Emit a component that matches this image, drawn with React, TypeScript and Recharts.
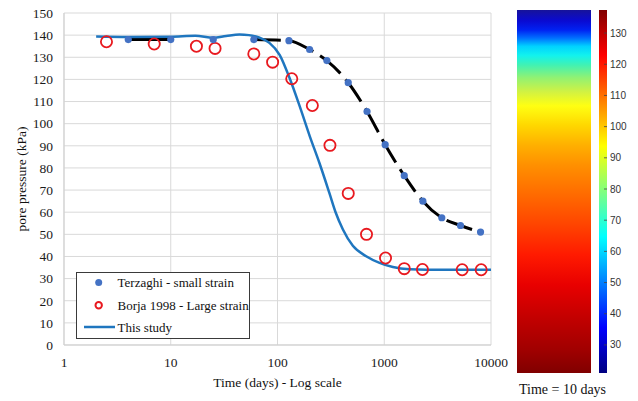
import React from 'react';
import {
  ComposedChart,
  Line,
  Scatter,
  XAxis,
  YAxis,
  CartesianGrid,
  Legend,
  BarChart,
  Bar,
  Label,
} from 'recharts';

// ---------- data ----------
const xTicks = [1, 10, 100, 1000, 10000];
const yTicks = [0, 10, 20, 30, 40, 50, 60, 70, 80, 90, 100, 110, 120, 130, 140, 150];

const terzaghiTime = [4, 10, 25, 60, 128, 200, 290, 460, 690, 1020, 1540, 2300, 3460, 5180, 7980];
const terzaghiPressure = [138, 138, 138, 138, 137.5, 133.5, 128.5, 118.5, 105.5, 90.5, 76.5, 65, 57.5, 54, 51];

const borjaTime = [2.5, 7, 17.4, 26, 60, 90, 136, 212, 310, 460, 682, 1028, 1540, 2280, 5370, 8090];
const borjaPressure = [137, 136, 135, 134, 131.5, 127.8, 120.3, 108.2, 90.2, 68.5, 50, 39.3, 34.5, 34.1, 34, 34];

const studyTime = [2, 4, 10, 17, 25, 33, 44, 54, 68, 84, 105, 130, 161, 200, 248, 307, 350, 410, 508, 677, 904, 1205, 1740, 2500, 5000, 10000];
const studyPressure = [139.4, 139.2, 139.3, 139.7, 138.8, 139.6, 140.3, 140, 138.8, 136.5, 131, 120.5, 108, 94.5, 82, 68.5, 60, 52.2, 44.8, 40.1, 37.1, 35.2, 34.2, 34, 34, 34];

const legendLabels = ['Terzaghi - small strain', 'Borja 1998 - Large strain', 'This study'];

const colorbarTicks = [30, 40, 50, 60, 70, 80, 90, 100, 110, 120, 130];
const colorbarRange: [number, number] = [21, 137.4];
const fieldTitle = 'Time = 10 days';

const terzaghiData = terzaghiTime.map((t, i) => ({ t, p: terzaghiPressure[i] }));
const terzaghiFirst = terzaghiData.slice(0, 2);
const terzaghiRest = terzaghiData.slice(3);
const borjaData = borjaTime.map((t, i) => ({ t, p: borjaPressure[i] }));
const studyData = studyTime.map((t, i) => ({ t, p: studyPressure[i] }));
const colorbarData = [{ name: fieldTitle, range: colorbarRange }];

// ---------- styles ----------
const SERIF = '"Liberation Serif", "Times New Roman", serif';
const SANS = '"Liberation Sans", Arial, sans-serif';
const BLUE_DOT = '#4472c4';
const RED = '#e8191f';
const BLUE_LINE = '#1f76bf';

const BlueDot = (props: any) => <circle cx={props.cx} cy={props.cy} r={3.6} fill={BLUE_DOT} />;
const RedCircle = (props: any) => (
  <circle cx={props.cx} cy={props.cy} r={5.6} fill="none" stroke={RED} strokeWidth={1.8} />
);

const XTitle = (props: any) => {
  const vb = props.viewBox;
  return (
    <text x={vb.x + vb.width / 2} y={vb.y + 41.5} textAnchor="middle" fontFamily={SERIF} fontSize={13.5} fill="#111">
      Time (days) - Log scale
    </text>
  );
};

const YTitle = (props: any) => {
  const vb = props.viewBox;
  const cx = 26;
  const cy = vb.y + vb.height / 2;
  return (
    <text x={cx} y={cy} transform={`rotate(-90, ${cx}, ${cy})`} textAnchor="middle" fontFamily={SERIF} fontSize={13.5} fill="#111">
      pore pressure (kPa)
    </text>
  );
};

const LegendBox = () => (
  <svg width={174} height={67} style={{ display: 'block' }}>
    <rect x={0.5} y={0.5} width={173} height={66} fill="#fff" stroke="#3a3a3a" strokeWidth={1} />
    <circle cx={22.7} cy={10.5} r={3.5} fill={BLUE_DOT} />
    <circle cx={22.7} cy={33.3} r={3.2} fill="none" stroke={RED} strokeWidth={2} />
    <line x1={8} x2={39} y1={55} y2={55} stroke={BLUE_LINE} strokeWidth={2.5} />
    {legendLabels.map((l, i) => (
      <text key={l} x={41.5} y={15 + i * 22.5} fontFamily={SERIF} fontSize={13} fill="#111">
        {l}
      </text>
    ))}
  </svg>
);

const FieldTitle = (props: any) => {
  const vb = props.viewBox;
  return (
    <text x={vb.x + vb.width / 2 + 8.5} y={vb.y + 21} textAnchor="middle" fontFamily={SERIF} fontSize={14} fill="#111">
      {fieldTitle}
    </text>
  );
};

export default function App() {
  return (
    <div style={{ position: 'absolute', left: 0, top: 0, width: 638, height: 401, background: '#fff', overflow: 'hidden' }}>
      <div style={{ position: 'absolute', left: 0, top: 0 }}>
        <ComposedChart width={510} height={401} margin={{ top: 13, right: 19, bottom: 0, left: 0 }}>
          <CartesianGrid stroke="#d9d9d9" strokeWidth={1} />
          <XAxis
            dataKey="t"
            type="number"
            scale="log"
            domain={[1, 10000]}
            ticks={xTicks}
            interval={0}
            allowDataOverflow
            height={56}
            tickLine={false}
            tickSize={0}
            tickMargin={12}
            axisLine={{ stroke: '#cfcfcf' }}
            tick={{ fontFamily: SERIF, fontSize: 13.5, fill: '#1a1a1a' }}
          >
            <Label content={XTitle} />
          </XAxis>
          <YAxis
            type="number"
            domain={[0, 150]}
            ticks={yTicks}
            interval={0}
            width={64}
            tickLine={false}
            tickSize={0}
            tickMargin={11}
            axisLine={{ stroke: '#cfcfcf' }}
            tick={{ fontFamily: SERIF, fontSize: 13.5, fill: '#1a1a1a' }}
          >
            <Label content={YTitle} />
          </YAxis>
          <Line data={terzaghiFirst} dataKey="p" type="monotone" stroke="#000" strokeWidth={3} dot={false} activeDot={false} isAnimationActive={false} legendType="none" />
          <Line data={terzaghiRest} dataKey="p" type="monotone" stroke="#000" strokeWidth={3} strokeDasharray="27 8" dot={false} activeDot={false} isAnimationActive={false} legendType="none" />
          <Line data={studyData} dataKey="p" name="This study" type="monotone" stroke={BLUE_LINE} strokeWidth={2.5} dot={false} activeDot={false} isAnimationActive={false} />
          <Scatter data={borjaData} dataKey="p" name="Borja 1998 - Large strain" shape={RedCircle} isAnimationActive={false} />
          <Scatter data={terzaghiData} dataKey="p" name="Terzaghi - small strain" shape={BlueDot} isAnimationActive={false} />
          <Legend
            layout="vertical"
            align="center"
            verticalAlign="middle"
            content={LegendBox}
            wrapperStyle={{ left: 76, top: 272, width: 174, height: 67, right: 'auto', bottom: 'auto' }}
          />
        </ComposedChart>
      </div>

      {/* field picture at Time = 10 days */}
      <div style={{ position: 'absolute', left: 505, top: 0 }}>
        <BarChart width={110} height={401} data={colorbarData} margin={{ top: 10, right: 24, left: 12, bottom: 0 }} barCategoryGap={0} barGap={0}>
          <defs>
            <linearGradient id="fieldGrad" x1="0" y1="0" x2="0" y2="1">
              <stop offset="0" stopColor="#17139a" />
              <stop offset="0.03" stopColor="#0a0ad2" />
              <stop offset="0.055" stopColor="#0022f2" />
              <stop offset="0.078" stopColor="#0072ff" />
              <stop offset="0.1" stopColor="#00d2ff" />
              <stop offset="0.125" stopColor="#12f2ee" />
              <stop offset="0.152" stopColor="#42f2b2" />
              <stop offset="0.187" stopColor="#92f272" />
              <stop offset="0.226" stopColor="#d2f242" />
              <stop offset="0.264" stopColor="#ffff12" />
              <stop offset="0.317" stopColor="#ffd800" />
              <stop offset="0.372" stopColor="#ffb000" />
              <stop offset="0.427" stopColor="#ff9000" />
              <stop offset="0.51" stopColor="#ff6a00" />
              <stop offset="0.592" stopColor="#ff4400" />
              <stop offset="0.675" stopColor="#ff1a00" />
              <stop offset="0.758" stopColor="#e80000" />
              <stop offset="0.854" stopColor="#c00000" />
              <stop offset="0.937" stopColor="#a00000" />
              <stop offset="1" stopColor="#800000" />
            </linearGradient>
          </defs>
          <XAxis dataKey="name" height={28} tick={false} tickLine={false} axisLine={false}>
            <Label content={FieldTitle} />
          </XAxis>
          <YAxis hide type="number" domain={colorbarRange} />
          <Bar dataKey="range" fill="url(#fieldGrad)" isAnimationActive={false} />
        </BarChart>
      </div>

      {/* colour bar */}
      <div style={{ position: 'absolute', left: 599, top: 0 }}>
        <BarChart width={39} height={401} data={colorbarData} margin={{ top: 10, right: 0, left: 0, bottom: 28 }} barCategoryGap={0} barGap={0}>
          <defs>
            <linearGradient id="jetGrad" x1="0" y1="0" x2="0" y2="1">
              <stop offset="0" stopColor="#800000" />
              <stop offset="0.125" stopColor="#ff0000" />
              <stop offset="0.375" stopColor="#ffff00" />
              <stop offset="0.625" stopColor="#00ffff" />
              <stop offset="0.875" stopColor="#0000ff" />
              <stop offset="1" stopColor="#000080" />
            </linearGradient>
          </defs>
          <XAxis dataKey="name" hide />
          <YAxis
            orientation="right"
            type="number"
            domain={colorbarRange}
            ticks={colorbarTicks}
            interval={0}
            width={31}
            axisLine={false}
            tickLine={{ stroke: '#444', strokeWidth: 0.8 }}
            tickSize={-3}
            tickMargin={6}
            tick={{ fontFamily: SANS, fontSize: 10, fill: '#333' }}
          />
          <Bar dataKey="range" fill="url(#jetGrad)" isAnimationActive={false} />
        </BarChart>
      </div>
    </div>
  );
}
